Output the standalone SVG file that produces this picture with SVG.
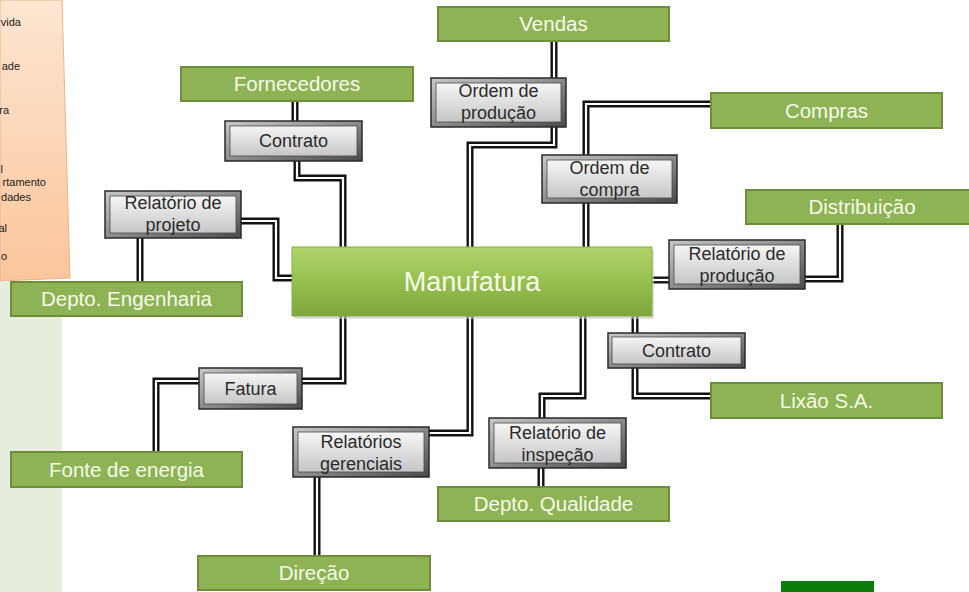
<svg xmlns="http://www.w3.org/2000/svg" xmlns:xlink="http://www.w3.org/1999/xlink" width="969" height="592" viewBox="0 0 969 592">
<defs>
<linearGradient id="orange" x1="0" y1="0" x2="0" y2="1">
<stop offset="0" stop-color="#fde6d2"/>
<stop offset="1" stop-color="#fbc59b"/>
</linearGradient>
<linearGradient id="manu" x1="0" y1="0" x2="0" y2="1">
<stop offset="0" stop-color="#b0d46c"/>
<stop offset="0.5" stop-color="#97c04f"/>
<stop offset="1" stop-color="#7ca63c"/>
</linearGradient>
<linearGradient id="bevel" x1="0" y1="0" x2="1" y2="1">
<stop offset="0" stop-color="#c8c8c8"/>
<stop offset="0.5" stop-color="#8c8c8c"/>
<stop offset="1" stop-color="#4a4a4a"/>
</linearGradient>
<linearGradient id="face" x1="0" y1="0" x2="0" y2="1">
<stop offset="0" stop-color="#f6f6f6"/>
<stop offset="1" stop-color="#c6c6c6"/>
</linearGradient>
<path id="p1" d="M554,41 V78"/>
<path id="p2" d="M554,127 V145 H470 V247"/>
<path id="p3" d="M711,104 H586 V155"/>
<path id="p4" d="M586,203 V247"/>
<path id="p5" d="M652,280 H669"/>
<path id="p6" d="M805,279 H840 V224"/>
<path id="p7" d="M635,316 V333"/>
<path id="p8" d="M635,368 V396 H711"/>
<path id="p9" d="M295,101 V121"/>
<path id="p10" d="M297,161 V178 H343 V247"/>
<path id="p11" d="M241,221 H276 V278 H292"/>
<path id="p12" d="M140,238 V282"/>
<path id="p13" d="M343,316 V381 H302"/>
<path id="p14" d="M199,381 H156 V452"/>
<path id="p15" d="M470,316 V433 H429"/>
<path id="p16" d="M317,477 V556"/>
<path id="p17" d="M583,316 V396 H542 V418"/>
<path id="p18" d="M541,468 V487"/>
</defs>
<style>
.cb{fill:none;stroke:#111;stroke-width:7;stroke-linejoin:miter}
.cw{fill:none;stroke:#fff;stroke-width:2.2;stroke-linejoin:miter}
.gn{fill:#8db355;stroke:#6d8e3b;stroke-width:2}
.gt{font-family:"Liberation Sans",Arial,sans-serif;font-size:20.5px;fill:#f6fbea;text-anchor:middle}
.mt{font-family:"Liberation Sans",Arial,sans-serif;font-size:27px;fill:#f6fbea;text-anchor:middle}
.bo{fill:url(#bevel);stroke:#2a2a2a;stroke-width:1.5}
.bi{fill:url(#face);stroke:#4a4a4a;stroke-width:0.8}
.bt{font-family:"Liberation Sans",Arial,sans-serif;font-size:18px;fill:#2a2a2a;text-anchor:middle}
.ft{font-family:"Liberation Sans",Arial,sans-serif;font-size:11px;fill:#222;text-anchor:end}
</style>
<rect width="969" height="592" fill="#ffffff"/>
<g id="side-panel">
<rect x="0" y="282" width="62" height="310" fill="#e7eddd"/>
<polygon points="0,0 62,0 70,278 0,281" fill="url(#orange)" stroke="#eab48a" stroke-width="1"/>
<text class="ft" x="21" y="26">vida</text>
<text class="ft" x="20" y="70">ade</text>
<text class="ft" x="9" y="114">ra</text>
<text class="ft" x="3" y="173">l</text>
<text class="ft" x="46" y="186">rtamento</text>
<text class="ft" x="31" y="201">dades</text>
<text class="ft" x="7" y="232">al</text>
<text class="ft" x="7" y="260">o</text>
</g>
<g id="connectors">
<use xlink:href="#p1" class="cb"/><use xlink:href="#p2" class="cb"/><use xlink:href="#p3" class="cb"/>
<use xlink:href="#p4" class="cb"/><use xlink:href="#p5" class="cb"/><use xlink:href="#p6" class="cb"/>
<use xlink:href="#p7" class="cb"/><use xlink:href="#p8" class="cb"/><use xlink:href="#p9" class="cb"/>
<use xlink:href="#p10" class="cb"/><use xlink:href="#p11" class="cb"/><use xlink:href="#p12" class="cb"/>
<use xlink:href="#p13" class="cb"/><use xlink:href="#p14" class="cb"/><use xlink:href="#p15" class="cb"/>
<use xlink:href="#p16" class="cb"/><use xlink:href="#p17" class="cb"/><use xlink:href="#p18" class="cb"/>
<use xlink:href="#p1" class="cw"/><use xlink:href="#p2" class="cw"/><use xlink:href="#p3" class="cw"/>
<use xlink:href="#p4" class="cw"/><use xlink:href="#p5" class="cw"/><use xlink:href="#p6" class="cw"/>
<use xlink:href="#p7" class="cw"/><use xlink:href="#p8" class="cw"/><use xlink:href="#p9" class="cw"/>
<use xlink:href="#p10" class="cw"/><use xlink:href="#p11" class="cw"/><use xlink:href="#p12" class="cw"/>
<use xlink:href="#p13" class="cw"/><use xlink:href="#p14" class="cw"/><use xlink:href="#p15" class="cw"/>
<use xlink:href="#p16" class="cw"/><use xlink:href="#p17" class="cw"/><use xlink:href="#p18" class="cw"/>
</g>
<g id="vendas"><rect class="gn" x="438" y="7" width="231" height="34"/><text class="gt" x="553.5" y="31">Vendas</text></g>
<g id="fornecedores"><rect class="gn" x="181" y="67" width="232" height="34"/><text class="gt" x="297" y="91">Fornecedores</text></g>
<g id="compras"><rect class="gn" x="711" y="93" width="231" height="35"/><text class="gt" x="826.5" y="117.5">Compras</text></g>
<g id="distribuicao"><rect class="gn" x="746" y="190" width="226" height="34"/><text class="gt" x="862" y="214">Distribuição</text></g>
<g id="depto-engenharia"><rect class="gn" x="11" y="282" width="231" height="34"/><text class="gt" x="126.5" y="306">Depto. Engenharia</text></g>
<g id="lixao"><rect class="gn" x="711" y="383" width="231" height="35"/><text class="gt" x="826.5" y="407.5">Lixão S.A.</text></g>
<g id="fonte-energia"><rect class="gn" x="11" y="452" width="231" height="35"/><text class="gt" x="126.5" y="476.5">Fonte de energia</text></g>
<g id="depto-qualidade"><rect class="gn" x="438" y="487" width="231" height="34"/><text class="gt" x="553.5" y="511">Depto. Qualidade</text></g>
<g id="direcao"><rect class="gn" x="198" y="556" width="232" height="34"/><text class="gt" x="314" y="580">Direção</text></g>
<g id="manufatura"><rect x="294" y="250" width="360" height="69" fill="#c9c9c9" opacity="0.6"/><rect x="292" y="247" width="360" height="69" fill="url(#manu)" stroke="#86ad46" stroke-width="1"/><text class="mt" x="472" y="291">Manufatura</text></g>
<g id="contrato-fornecedores"><rect class="bo" x="225" y="121" width="137" height="40"/><rect class="bi" x="230" y="126" width="127" height="30"/><text class="bt" x="293.5" y="147">Contrato</text></g>
<g id="ordem-producao"><rect class="bo" x="431" y="78" width="135" height="49"/><rect class="bi" x="436" y="83" width="125" height="39"/><text class="bt" x="498.5" y="97">Ordem de</text><text class="bt" x="498.5" y="119">produção</text></g>
<g id="relatorio-projeto"><rect class="bo" x="105" y="191" width="136" height="47"/><rect class="bi" x="110" y="196" width="126" height="37"/><text class="bt" x="173" y="209">Relatório de</text><text class="bt" x="173" y="231">projeto</text></g>
<g id="ordem-compra"><rect class="bo" x="542" y="155" width="135" height="48"/><rect class="bi" x="547" y="160" width="125" height="38"/><text class="bt" x="609.5" y="174">Ordem de</text><text class="bt" x="609.5" y="196">compra</text></g>
<g id="relatorio-producao"><rect class="bo" x="669" y="240" width="136" height="49"/><rect class="bi" x="674" y="245" width="126" height="39"/><text class="bt" x="737" y="260">Relatório de</text><text class="bt" x="737" y="282">produção</text></g>
<g id="contrato-lixao"><rect class="bo" x="608" y="333" width="137" height="35"/><rect class="bi" x="612" y="337" width="129" height="27"/><text class="bt" x="676.5" y="356.5">Contrato</text></g>
<g id="fatura"><rect class="bo" x="199" y="368" width="103" height="41"/><rect class="bi" x="204" y="373" width="93" height="31"/><text class="bt" x="250.5" y="394.5">Fatura</text></g>
<g id="relatorios-gerenciais"><rect class="bo" x="293" y="427" width="136" height="50"/><rect class="bi" x="298" y="432" width="126" height="40"/><text class="bt" x="361" y="448">Relatórios</text><text class="bt" x="361" y="470">gerenciais</text></g>
<g id="relatorio-inspecao"><rect class="bo" x="489" y="418" width="137" height="50"/><rect class="bi" x="494" y="423" width="127" height="40"/><text class="bt" x="557.5" y="439">Relatório de</text><text class="bt" x="557.5" y="461">inspeção</text></g>
<rect x="781" y="581" width="93" height="11" fill="#0b7d0b"/>
</svg>
